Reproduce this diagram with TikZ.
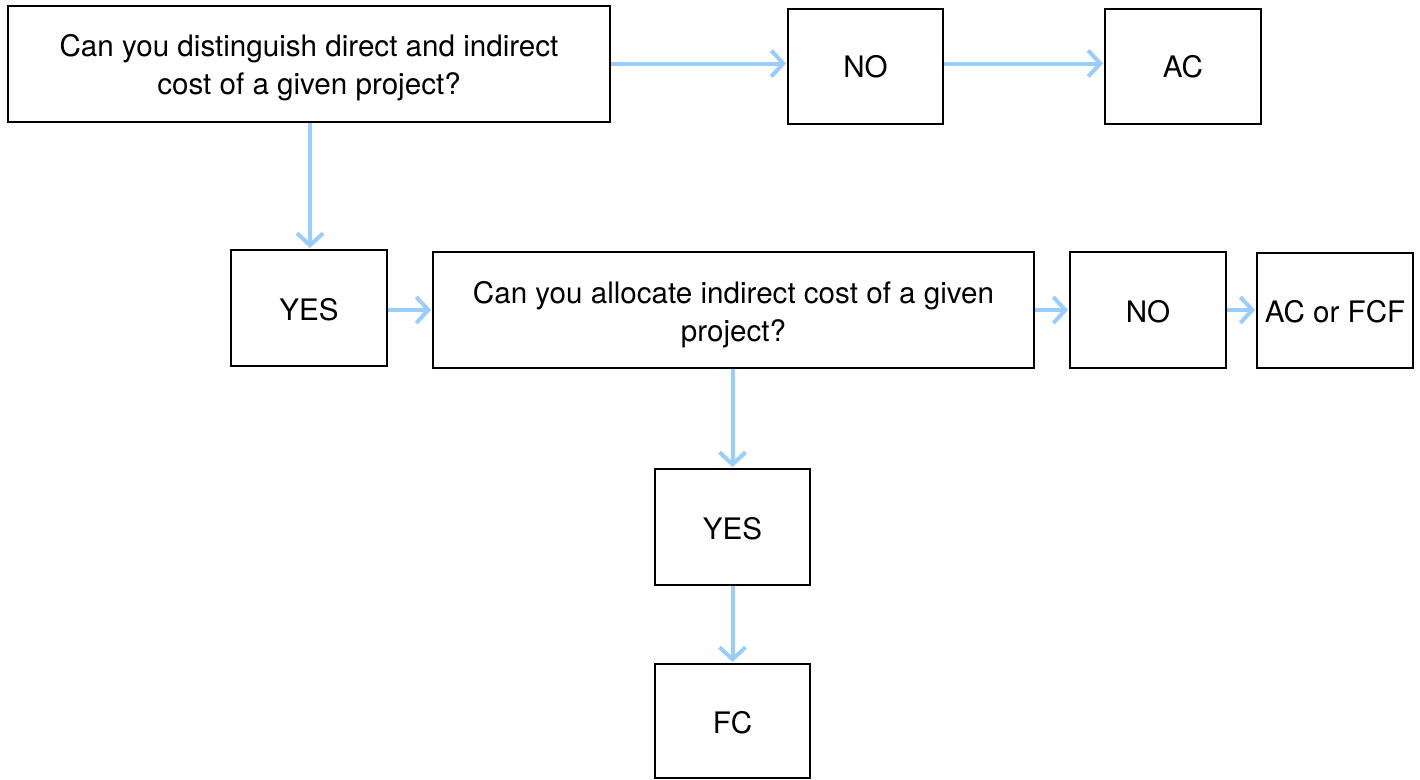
\documentclass[tikz,border=0pt]{standalone}
\usepackage{fontspec}
\setmainfont{TeX Gyre Heros}
\usetikzlibrary{arrows.meta}
\definecolor{flowblue}{HTML}{99CCFF}
\tikzset{
  box/.style={draw=black, line width=2pt, fill=white, inner sep=0pt,
    align=center, font=\fontsize{29.6}{38}\selectfont},
  % single-word labels sit a little below the box centre
  lowtext/.style={text height=25.3pt, text depth=0pt},
  flow/.style={draw=flowblue, line width=4pt,
    -{Straight Barb[length=12pt,width=26pt]}, shorten >=1pt}
}
\begin{document}
\begin{tikzpicture}[x=1pt,y=-1pt]
  \useasboundingbox (0,0) rectangle (1420,779);
  % first question and its outcomes
  \node[box, minimum width=602pt, minimum height=116pt] (q1) at (309,63.5)
    {\rule{0pt}{29.6pt}Can you distinguish direct and indirect\\cost of a given project?};
  \node[box, minimum width=155pt, minimum height=115pt] (no1) at (865.5,66.5) {NO};
  \node[box, minimum width=156pt, minimum height=115pt] (ac1) at (1183,66.5) {AC};
  % second question and its outcomes
  \node[box, lowtext, minimum width=156pt, minimum height=116pt] (yes1) at (309,308) {YES};
  \node[box, minimum width=601pt, minimum height=116pt] (q2) at (733.5,310)
    {\rule{0pt}{31.6pt}Can you allocate indirect cost of a given\\project?};
  \node[box, lowtext, minimum width=156pt, minimum height=116pt] (no2) at (1148,310) {NO};
  \node[box, lowtext, minimum width=156pt, minimum height=115pt] (acfcf) at (1335,310) {AC or FCF};
  \node[box, lowtext, minimum width=155pt, minimum height=116pt] (yes2) at (732.5,527) {YES};
  \node[box, lowtext, minimum width=155pt, minimum height=114pt] (fc) at (732.5,721) {FC};
  % connectors
  \draw[flow] (q1.east) -- (q1.east -| no1.west);
  \draw[flow] (q1.east -| no1.east) -- (q1.east -| ac1.west);
  \draw[flow] ([xshift=1pt]q1.south) -- ([xshift=1pt]q1.south |- yes1.north);
  \draw[flow] (yes1.east |- q2.west) -- (q2.west);
  \draw[flow] (q2.east) -- (no2.west);
  \draw[flow] (no2.east) -- (acfcf.west);
  \draw[flow] (q2.south -| yes2.north) -- (yes2.north);
  \draw[flow] (yes2.south) -- (fc.north);
\end{tikzpicture}
\end{document}
